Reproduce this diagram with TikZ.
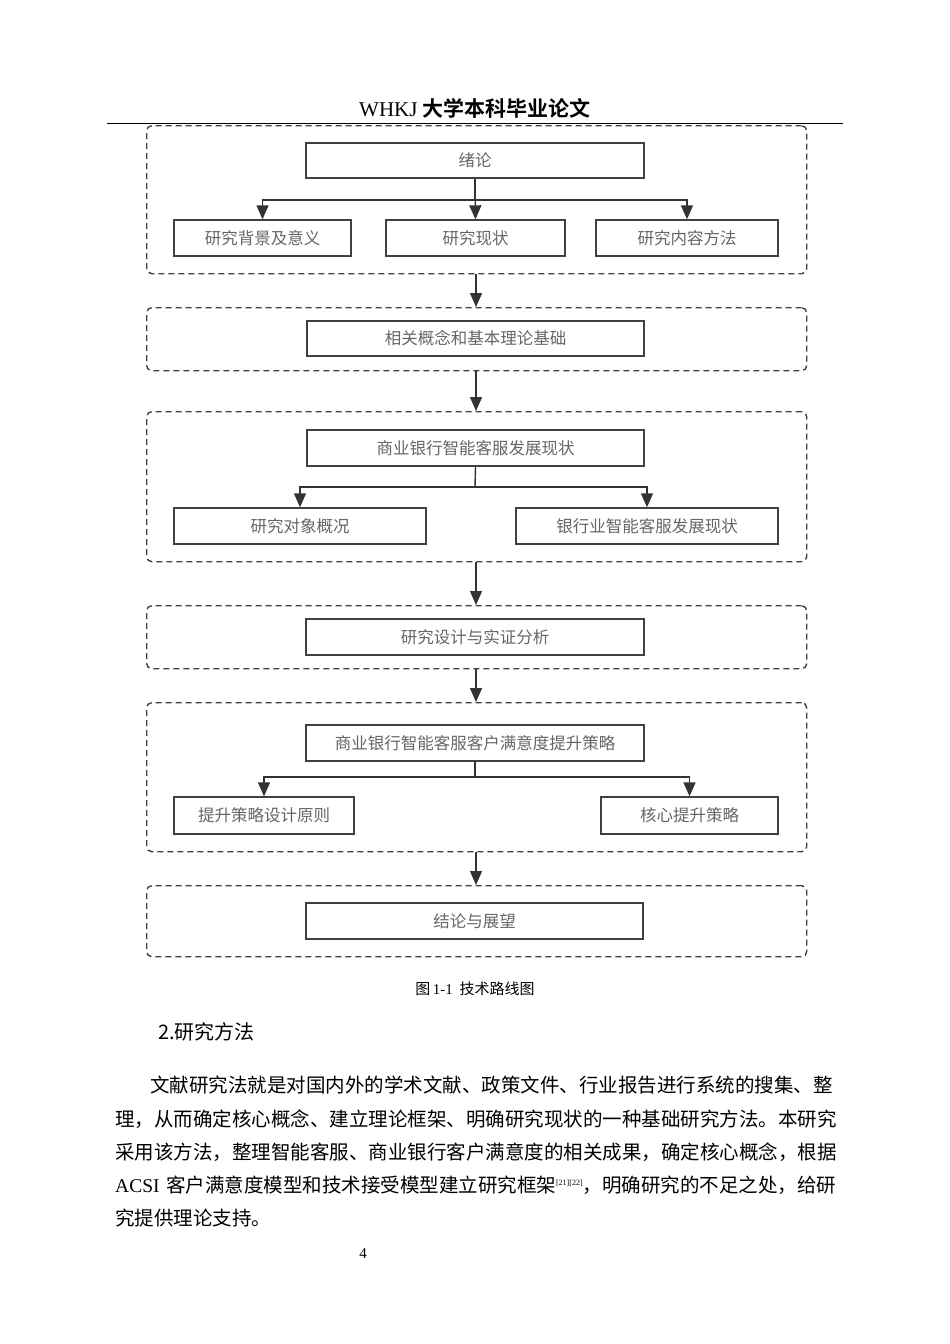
\documentclass[tikz,border=0pt]{standalone}
\usepackage{fontspec}
\setmainfont{Liberation Serif}
\newfontfamily\cjk{Noto Sans CJK SC}
\newfontfamily\cjkb{Noto Sans CJK SC Bold}
\usetikzlibrary{arrows.meta}
\XeTeXlinebreaklocale "zh"
\XeTeXlinebreakskip=0pt plus 1pt minus 2pt
\begin{document}
\begin{tikzpicture}[x=1pt,y=-1pt,
 grp/.style={draw=black!75,dashed,line width=1.4pt,dash pattern=on 6pt off 4pt,rounded corners=5pt},
 box/.style={draw=black!75,line width=1.4pt,text=black!60,font=\fontsize{16.5}{18}\cjk},
 arr/.style={draw=black!80,line width=1.4pt,-{Triangle[length=14pt,width=12pt]}},
 ln/.style={draw=black!80,line width=1.4pt},
 body/.style={anchor=base west,inner sep=0pt,font=\fontsize{19.5}{22}\cjk}]
\useasboundingbox (0,0) rectangle (950,1344);
\fill[white] (0,0) rectangle (950,1344);
% header
\node (hdr) at (475,108) {\fontsize{21}{22}\selectfont WHKJ {\cjkb 大学本科毕业论文}};
\draw[line width=1pt] (107,123) -- (843,123);
% groups
\node[grp,minimum width=660,minimum height=148,anchor=north west] (g1) at (146,125) {};
\node[grp,minimum width=660,minimum height=63,anchor=north west] (g2) at (146,307) {};
\node[grp,minimum width=660,minimum height=150,anchor=north west] (g3) at (146,411) {};
\node[grp,minimum width=660,minimum height=63,anchor=north west] (g4) at (146,605) {};
\node[grp,minimum width=660,minimum height=149,anchor=north west] (g5) at (146,702) {};
\node[grp,minimum width=660,minimum height=71,anchor=north west] (g6) at (146,885) {};
% boxes
\node[box,minimum width=338,minimum height=35] (a) at (475,160.5) {绪论};
\node[box,minimum width=177,minimum height=36] (a1) at (262.5,238) {研究背景及意义};
\node[box,minimum width=179,minimum height=36] (a2) at (475.5,238) {研究现状};
\node[box,minimum width=182,minimum height=36] (a3) at (687,238) {研究内容方法};
\node[box,minimum width=337,minimum height=35] (b) at (475.5,338.5) {相关概念和基本理论基础};
\node[box,minimum width=337,minimum height=36] (c) at (475.5,448) {商业银行智能客服发展现状};
\node[box,minimum width=252,minimum height=36] (c1) at (300,526) {研究对象概况};
\node[box,minimum width=262,minimum height=36] (c2) at (647,526) {银行业智能客服发展现状};
\node[box,minimum width=338,minimum height=36] (d) at (475,637) {研究设计与实证分析};
\node[box,minimum width=338,minimum height=36] (e) at (475,743) {商业银行智能客服客户满意度提升策略};
\node[box,minimum width=180,minimum height=37] (e1) at (264,815.5) {提升策略设计原则};
\node[box,minimum width=177,minimum height=37] (e2) at (689.5,815.5) {核心提升策略};
\node[box,minimum width=337,minimum height=36] (f) at (474.5,921) {结论与展望};
% internal arrows
\draw[ln] (a.south) -- (475,200);
\draw[arr] (475,200) -| (a1.north);
\draw[arr] (a.south) -- (a2.north);
\draw[arr] (475,200) -| (a3.north);
\draw[ln] (c.south) -- (475,487);
\draw[arr] (475,487) -| (c1.north);
\draw[arr] (475,487) -| (c2.north);
\draw[ln] (e.south) -- (475,777);
\draw[arr] (475,777) -| (e1.north);
\draw[arr] (475,777) -| (e2.north);
% group arrows
\draw[arr] (g1.south -| 476,0) -- (g2.north -| 476,0);
\draw[arr] (g2.south -| 476,0) -- (g3.north -| 476,0);
\draw[arr] (g3.south -| 476,0) -- (g4.north -| 476,0);
\draw[arr] (g4.south -| 476,0) -- (g5.north -| 476,0);
\draw[arr] (g5.south -| 476,0) -- (g6.north -| 476,0);
% caption
\node (cap) at (475,989) {\fontsize{15}{16}\cjk 图\,{\rmfamily 1-1}\ \ 技术路线图};
\node[anchor=west,inner sep=0pt] (h2) at (158,1032) {\fontsize{20}{22}\cjk 2.研究方法};
% paragraph
\node[body] (p1) at (150,1092) {\makebox[686pt][s]{文献研究法就是对国内外的学术文献、政策文件、行业报告进行系统的搜集、整}};
\node[body] (p2) at (115,1126) {\makebox[721pt][s]{理，从而确定核心概念、建立理论框架、明确研究现状的一种基础研究方法。本研究}};
\node[body] (p3) at (115,1159) {\makebox[721pt][s]{采用该方法，整理智能客服、商业银行客户满意度的相关成果，确定核心概念，根据}};
\node[body] (p4) at (115,1192) {\makebox[721pt][s]{{\rmfamily ACSI} 客户满意度模型和技术接受模型建立研究框架\raisebox{7pt}{\fontsize{8}{8}\rmfamily [21][22]}，明确研究的不足之处，给研}};
\node[body] (p5) at (115,1225) {究提供理论支持。};
\node (pg) at (363,1254) {\fontsize{15}{16}\selectfont 4};
\end{tikzpicture}
\end{document}
